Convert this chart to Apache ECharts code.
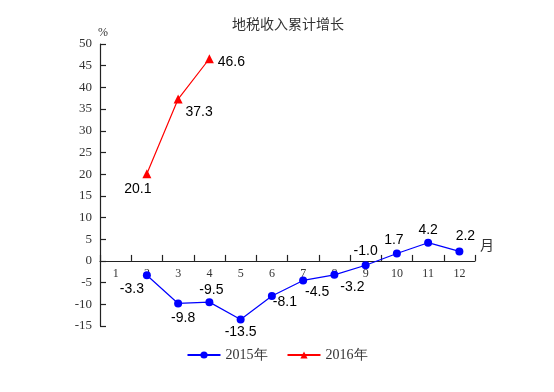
<!DOCTYPE html>
<html><head><meta charset="utf-8">
<script src="https://cdn.jsdelivr.net/npm/echarts@6/dist/echarts.min.js"></script>
<style>html,body{margin:0;padding:0;background:#fff}#c{width:554px;height:392px}</style>
</head><body><div id="c"></div>
<script>
var months = ['1','2','3','4','5','6','7','8','9','10','11','12'];
var s2015 = [null, -3.3, -9.8, -9.5, -13.5, -8.1, -4.5, -3.2, -1.0, 1.7, 4.2, 2.2];
var s2016 = [null, 20.1, 37.3, 46.6, null, null, null, null, null, null, null, null];
var seriesNames = ['2015年', '2016年'];
var title = '地税收入累计增长';
var yMin = -15, yMax = 50, yStep = 5;

// label placement per point [dx, dy] offsets from the point
var off2015 = [null, [-15, 14], [5, 15], [2, -12], [0, 13], [13, 6], [14, 12], [18, 12], [0, -14], [-3, -13], [0, -13], [6, -15]];
var off2016 = [null, [-9, 15], [21, 13], [22, 3]];

function mk(vals, offs) {
  return vals.map(function (v, i) {
    if (v === null) return null;
    var o = offs[i] || [0, -12];
    return { value: v, label: { show: true, position: 'inside', offset: o,
      formatter: function (p) { return p.value.toFixed(1); } } };
  });
}

var W = 554, H = 392;
var gTop = 44, gBottom = 66, gLeft = 100, gRight = 79;
var plotH = H - gTop - gBottom;
var zeroY = gTop + plotH * yMax / (yMax - yMin);

var chart = echarts.init(document.getElementById('c'));
chart.setOption({
  animation: false,
  title: { text: title, left: 227, top: 12,
    textStyle: { fontFamily: 'Noto Sans CJK SC', fontWeight: 'normal', fontSize: 14, color: '#333' } },
  grid: [
    { left: gLeft, right: gRight, top: gTop, bottom: gBottom },
    { left: gLeft, right: gRight, top: gTop, bottom: H - zeroY }
  ],
  legend: { top: 343, left: 'center', itemWidth: 33, itemHeight: 9, itemGap: 19,
    textStyle: { fontFamily: 'Liberation Serif', fontSize: 14, color: '#333' },
    data: seriesNames },
  xAxis: [
    { gridIndex: 0, type: 'category', data: months, boundaryGap: true, show: false },
    { gridIndex: 1, type: 'category', data: months, boundaryGap: true, position: 'bottom',
      name: '月', nameLocation: 'end', nameGap: 5,
      nameTextStyle: { fontFamily: 'Noto Sans CJK SC', fontSize: 14, color: '#333', verticalAlign: 'bottom', padding: [0, 0, 9, 0] },
      axisLine: { show: true, onZero: false, lineStyle: { color: '#222', width: 1.2 } },
      axisTick: { show: true, interval: 0, inside: true, length: 6, lineStyle: { color: '#222', width: 1.2 } },
      axisLabel: { margin: 7, fontFamily: 'Liberation Serif', fontSize: 12, color: '#333' },
      splitLine: { show: false } }
  ],
  yAxis: [
    { gridIndex: 0, type: 'value', min: yMin, max: yMax, interval: yStep,
      name: '%', nameLocation: 'end', nameGap: 5,
      nameTextStyle: { fontFamily: 'Liberation Serif', fontSize: 12, color: '#333', align: 'center', padding: [0, 0, 0, 6] },
      axisLine: { show: true, lineStyle: { color: '#222', width: 1.2 } },
      axisTick: { show: true, inside: true, length: 6, lineStyle: { color: '#222', width: 1.2 } },
      axisLabel: { margin: 8, fontFamily: 'Liberation Serif', fontSize: 13, color: '#333' },
      splitLine: { show: false } },
    { gridIndex: 1, type: 'value', min: 0, max: yMax, show: false }
  ],
  series: [
    { name: seriesNames[0], type: 'line', xAxisIndex: 0, yAxisIndex: 0, data: mk(s2015, off2015),
      symbol: 'circle', symbolSize: 8, itemStyle: { color: '#0000FF' },
      lineStyle: { color: '#0000FF', width: 1.2 },
      label: { fontFamily: 'Liberation Sans', fontSize: 14, color: '#000' } },
    { name: seriesNames[1], type: 'line', xAxisIndex: 0, yAxisIndex: 0, data: mk(s2016, off2016),
      symbol: 'triangle', symbolSize: 9, itemStyle: { color: '#FF0000' },
      lineStyle: { color: '#FF0000', width: 1.2 },
      label: { fontFamily: 'Liberation Sans', fontSize: 14, color: '#000' } }
  ]
});
</script></body></html>
